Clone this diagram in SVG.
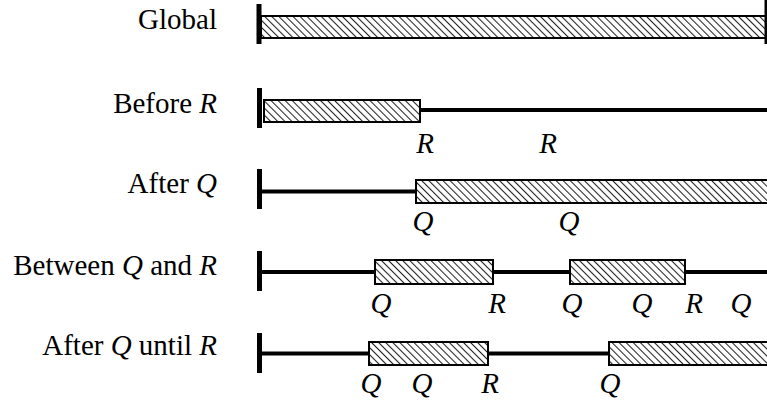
<svg xmlns="http://www.w3.org/2000/svg" width="767" height="401" viewBox="0 0 767 401">
<style>
text{font-family:"Liberation Serif","DejaVu Serif",serif;font-size:29px;fill:#000}
.lbl{text-anchor:end}
.m{text-anchor:middle;font-style:italic}
.i{font-style:italic}
.tick{fill:#000}
.line{stroke:#000;stroke-width:4;fill:none}
.bar{fill:url(#hatch);stroke:#000;stroke-width:2}
</style>
<defs>
<pattern id="hatch" patternUnits="userSpaceOnUse" width="5" height="5" patternTransform="rotate(-45)">
<rect width="5" height="5" fill="#fff"/>
<line x1="0.5" y1="0" x2="0.5" y2="5" stroke="#222" stroke-width="1.1"/>
</pattern>
</defs>
<g id="row-global">
<text class="lbl" x="217" y="29">Global</text>
<rect class="bar" x="261" y="16" width="506" height="22"/>
<rect class="tick" x="256.5" y="4" width="5" height="40"/>
<rect class="tick" x="764.5" y="0" width="5" height="44"/>
</g>
<g id="row-before">
<text class="lbl" x="217" y="113">Before <tspan class="i">R</tspan></text>
<line class="line" x1="420" y1="110" x2="767" y2="110"/>
<rect class="bar" x="264" y="100" width="156" height="22"/>
<rect class="tick" x="257" y="88" width="5" height="40"/>
<text class="m" x="425" y="153">R</text>
<text class="m" x="548" y="153">R</text>
</g>
<g id="row-after">
<text class="lbl" x="217" y="193">After <tspan class="i">Q</tspan></text>
<line class="line" x1="260" y1="191.5" x2="416" y2="191.5"/>
<rect class="bar" x="416" y="180" width="353" height="23"/>
<rect class="tick" x="257" y="169" width="5" height="40"/>
<text class="m" x="423" y="231">Q</text>
<text class="m" x="569" y="231">Q</text>
</g>
<g id="row-between">
<text class="lbl" x="217" y="275">Between <tspan class="i">Q</tspan> and <tspan class="i">R</tspan></text>
<line class="line" x1="260" y1="272" x2="767" y2="272"/>
<rect class="bar" x="375" y="260" width="118" height="24"/>
<rect class="bar" x="570" y="260" width="115" height="24"/>
<rect class="tick" x="257" y="251" width="5" height="40"/>
<text class="m" x="381" y="313">Q</text>
<text class="m" x="497" y="313">R</text>
<text class="m" x="572" y="313">Q</text>
<text class="m" x="642" y="313">Q</text>
<text class="m" x="694" y="313">R</text>
<text class="m" x="741" y="313">Q</text>
</g>
<g id="row-after-until">
<text class="lbl" x="217" y="355">After <tspan class="i">Q</tspan> until <tspan class="i">R</tspan></text>
<line class="line" x1="260" y1="353.5" x2="767" y2="353.5"/>
<rect class="bar" x="369" y="342" width="119" height="23"/>
<rect class="bar" x="609" y="342" width="160" height="23"/>
<rect class="tick" x="257" y="333" width="5" height="40"/>
<text class="m" x="371" y="393">Q</text>
<text class="m" x="422" y="393">Q</text>
<text class="m" x="490" y="393">R</text>
<text class="m" x="610" y="393">Q</text>
</g>
<g id="connectors"></g>
</svg>
